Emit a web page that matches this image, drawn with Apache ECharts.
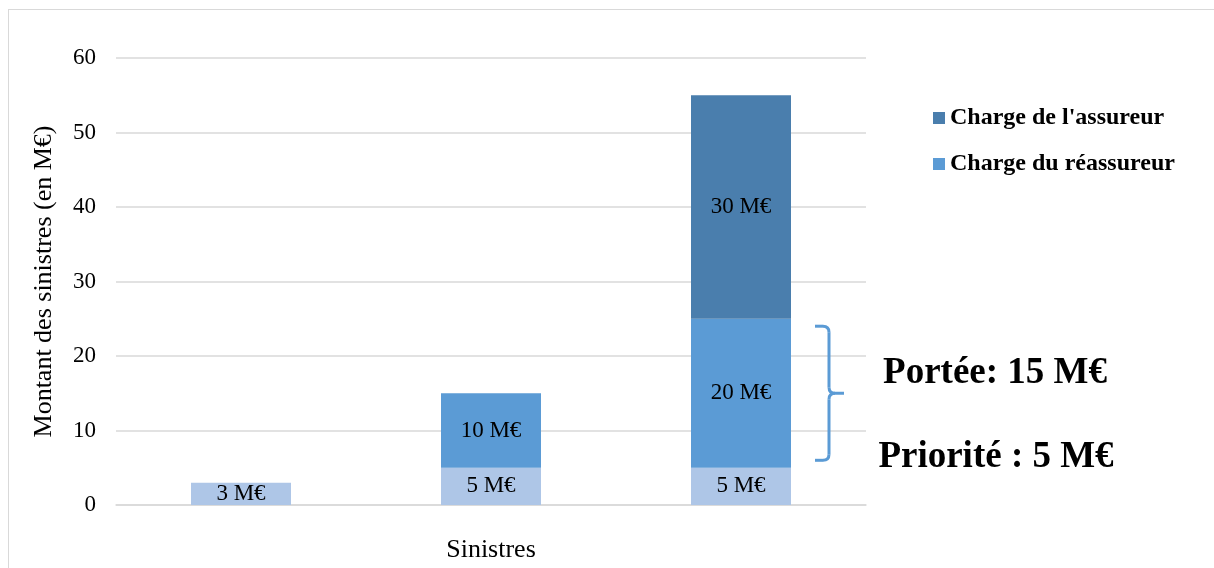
<!DOCTYPE html>
<html>
<head>
<meta charset="utf-8">
<script src="https://cdn.jsdelivr.net/npm/echarts@6/dist/echarts.min.js"></script>
<style>
  html, body { margin: 0; padding: 0; background: #ffffff; }
  #frame { position: absolute; left: 8px; top: 9px; width: 1206px; height: 559px;
           border-top: 1.5px solid #d9d9d9; border-left: 1.5px solid #d9d9d9; box-sizing: border-box; }
  #chart { position: absolute; left: 0; top: 0; width: 1214px; height: 568px; }
</style>
</head>
<body>
<div id="frame"></div>
<div id="chart"></div>
<script>
// Claims: retained part below the priority, reinsurer share, excess above the limit
const categories = ['Sinistre 1', 'Sinistre 2', 'Sinistre 3'];
const priorityPart = [3, 5, 5];
const reinsurerPart = [null, 10, 20];
const insurerPart = [null, null, 30];
const yTicks = [0, 10, 20, 30, 40, 50, 60];
const layerBottom = 6;   // bracket start (M€)
const layerTop = 24;     // bracket end (M€)
const annotations = ['Portée: 15 M€', 'Priorité : 5 M€'];

const serif = '"Liberation Serif", "DejaVu Serif", serif';
const chart = echarts.init(document.getElementById('chart'), null, { renderer: 'canvas' });

const labelStyle = {
  show: true,
  position: 'inside',
  color: '#000',
  fontFamily: serif,
  fontSize: 23,
  formatter: p => p.value + ' M€'
};

chart.setOption({
  animation: false,
  backgroundColor: 'transparent',
  grid: { left: 116, right: 348, top: 58, bottom: 63 },
  legend: {
    left: 928,
    top: 100,
    orient: 'vertical',
    itemGap: 20,
    itemWidth: 12,
    itemHeight: 12,
    icon: 'rect',
    data: ["Charge de l'assureur", 'Charge du réassureur'],
    textStyle: { fontFamily: serif, fontWeight: 'bold', fontSize: 24, lineHeight: 24, color: '#000', padding: [2, 0, 0, 0] }
  },
  xAxis: {
    type: 'category',
    data: categories,
    name: 'Sinistres',
    nameLocation: 'middle',
    nameGap: 32,
    nameTextStyle: { fontFamily: serif, fontSize: 26, color: '#000' },
    axisLine: { lineStyle: { color: '#d9d9d9', width: 1.5 } },
    axisTick: { show: false },
    axisLabel: { show: false }
  },
  yAxis: {
    type: 'value',
    min: 0,
    max: 60,
    interval: 10,
    name: 'Montant des sinistres (en M€)',
    nameLocation: 'middle',
    nameGap: 59,
    nameRotate: 90,
    nameTextStyle: { fontFamily: serif, fontSize: 26, color: '#000' },
    axisLine: { show: false },
    axisTick: { show: false },
    axisLabel: {
      fontFamily: serif, fontSize: 23, color: '#000', margin: 20,
      formatter: v => (yTicks.includes(v) ? String(v) : '')
    },
    splitLine: { lineStyle: { color: '#d9d9d9', width: 1.5 } }
  },
  series: [
    {
      name: 'Priorité',
      type: 'bar',
      stack: 'total',
      barWidth: '40%',
      data: priorityPart,
      itemStyle: { color: '#aec6e7' },
      label: labelStyle
    },
    {
      name: 'Charge du réassureur',
      type: 'bar',
      stack: 'total',
      data: reinsurerPart,
      itemStyle: { color: '#5b9bd5' },
      label: labelStyle
    },
    {
      name: "Charge de l'assureur",
      type: 'bar',
      stack: 'total',
      data: insurerPart,
      itemStyle: { color: '#4a7ead' },
      label: labelStyle
    }
  ]
});

// Curly bracket spanning the reinsured layer, beside the last claim
function drawBracket() {
  const top = chart.convertToPixel({ gridIndex: 0 }, [2, layerTop]);
  const bot = chart.convertToPixel({ gridIndex: 0 }, [2, layerBottom]);
  const yT = top[1], yB = bot[1];
  const mid = (yT + yB) / 2;
  const x0 = top[0] + 74;
  const x1 = top[0] + 88;
  const tail = top[0] + 103;
  const r = 6;
  const st = { stroke: '#5b9bd5', lineWidth: 3, fill: null, lineCap: 'butt' };
  const line = (a, b, c, d) => ({ type: 'line', shape: { x1: a, y1: b, x2: c, y2: d }, style: st, silent: true });
  const curve = (a, b, cx, cy, c, d) => ({
    type: 'bezierCurve', shape: { x1: a, y1: b, cpx1: cx, cpy1: cy, x2: c, y2: d }, style: st, silent: true
  });
  chart.setOption({
    graphic: [
      line(x0, yT, x1 - r, yT),
      curve(x1 - r, yT, x1, yT, x1, yT + r),
      line(x1, yT + r, x1, mid - r),
      curve(x1, mid - r, x1, mid, x1 + r, mid),
      line(x1 + r, mid, tail, mid),
      curve(x1 + r, mid, x1, mid, x1, mid + r),
      line(x1, mid + r, x1, yB - r),
      curve(x1, yB - r, x1, yB, x1 - r, yB),
      line(x1 - r, yB, x0, yB),
      {
        type: 'text',
        x: 995, y: mid - 20,
        style: { text: annotations[0], fill: '#000', fontFamily: serif, fontWeight: 'bold',
                 fontSize: 37, align: 'center', verticalAlign: 'middle' }
      },
      {
        type: 'text',
        x: 996, y: mid + 64,
        style: { text: annotations[1], fill: '#000', fontFamily: serif, fontWeight: 'bold',
                 fontSize: 37, align: 'center', verticalAlign: 'middle' }
      }
    ]
  });
}
drawBracket();
</script>
</body>
</html>
